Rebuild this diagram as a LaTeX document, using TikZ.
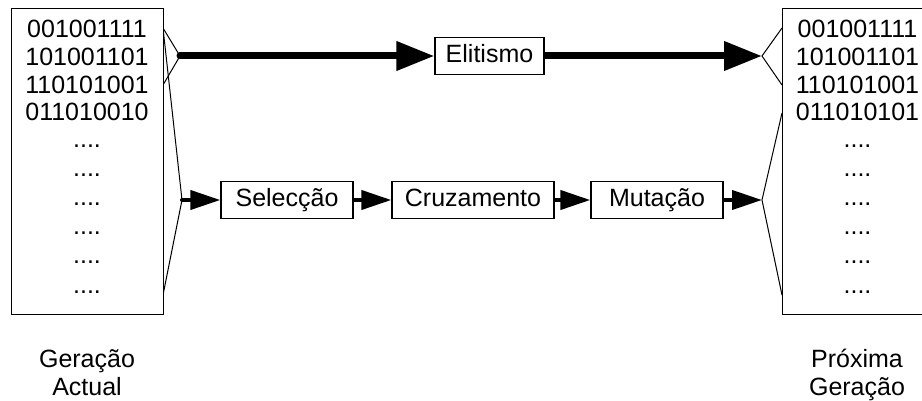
\documentclass[tikz,border=0pt]{standalone}
\usepackage{fontspec}
\setmainfont{Liberation Sans}
\usetikzlibrary{arrows.meta,backgrounds}
\begin{document}
\begin{tikzpicture}[x=1pt,y=-1pt,
  font=\fontsize{25}{28}\selectfont,
  box/.style={draw,line width=1.3pt,fill=white,minimum height=37pt,inner sep=0pt,text height=18pt,text depth=4pt},
  pop/.style={draw,line width=1.3pt,fill=white,inner sep=0pt,minimum width=152pt,minimum height=306pt,anchor=north west},
  txt/.style={anchor=base,inner sep=0pt},
  fan/.style={line width=1pt},
  bigarrow/.style={line width=7pt,line cap=round,-{Triangle[length=38pt,width=28pt]}},
  midarrow/.style={line width=4pt,line cap=round,-{Triangle[length=30pt,width=19pt]}}
]
\clip (0,0) rectangle (922,401);
\useasboundingbox (0,0) rectangle (922,401);

% population boxes
\node[pop] (cur) at (11,8) {};
\node[pop] (nxt) at (782,8) {};

% contents
\foreach \t/\y [count=\i] in {001001111/38,101001101/66,110101001/93.5,011010010/121,{....}/148,{....}/177,{....}/206,{....}/234,{....}/263,{....}/293}
  \node[txt] (cl\i) at (87,\y) {\t};
\foreach \t/\y [count=\i] in {001001111/38,101001101/66,110101001/93.5,011010101/121,{....}/148,{....}/177,{....}/206,{....}/234,{....}/263,{....}/293}
  \node[txt] (nl\i) at (857.5,\y) {\t};

% labels
\node[txt] (la1) at (87,367) {Geração};
\node[txt] (la2) at (87,395) {Actual};
\node[txt] (lb1) at (857,367) {Próxima};
\node[txt] (lb2) at (857,395) {Geração};

% operator boxes
\node[box,minimum width=109pt] (eli) at (489.5,56) {Elitismo};
\node[box,minimum width=132pt] (sel) at (287,200) {Selecção};
\node[box,minimum width=162pt] (cru) at (473,200) {Cruzamento};
\node[box,minimum width=132pt] (mut) at (657,200) {Mutação};

% fan points
\coordinate (la) at (163,28);
\coordinate (lb) at (163,85);
\coordinate (lc) at (163,295);
\coordinate (lf1) at (180,56);
\coordinate (lf2) at (182,200);
\coordinate (ra) at (782,28);
\coordinate (rb) at (782,85);
\coordinate (rc) at (782,113);
\coordinate (rd) at (782,295);
\coordinate (rf1) at (762,56);
\coordinate (rf2) at (762,200);

\begin{scope}[on background layer]
\draw[fan] (la) -- (lf1) -- (lb);
\draw[fan] (la) -- (lf2) -- (lc);
\draw[fan] (ra) -- (rf1) -- (rb);
\draw[fan] (rc) -- (rf2) -- (rd);
\draw[bigarrow] (lf1) -- (eli.west);
\draw[bigarrow] (eli.east) -- (rf1);
\draw[midarrow] (lf2) -- (sel.west);
\draw[midarrow] (sel.east) -- (cru.west);
\draw[midarrow] (cru.east) -- (mut.west);
\draw[midarrow] (mut.east) -- (rf2);
\end{scope}
\end{tikzpicture}
\end{document}
